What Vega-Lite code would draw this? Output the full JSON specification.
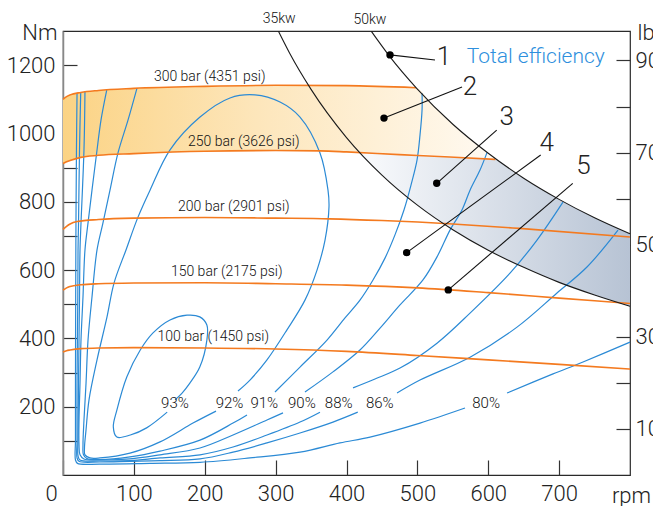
{
  "$schema": "https://vega.github.io/schema/vega-lite/v6.json",
  "width": 567,
  "height": 444,
  "autosize": {"type": "none"},
  "padding": {"left": 63, "top": 31, "right": 23, "bottom": 31},
  "background": "white",
  "config": {
    "view": {"stroke": "#2a2a2a", "strokeWidth": 1.2},
    "font": "Roboto",
    "text": {"font": "Roboto", "fontWeight": 300},
    "axis": {"labelFont": "Roboto", "titleFont": "Roboto", "labelFontWeight": 300, "titleFontWeight": 300, "labelColor": "#222", "titleColor": "#222", "grid": false, "tickColor": "#333", "tickWidth": 1.2, "zindex": 1}
  },
  "datasets": {
    "pressure": [
      {"p": "300", "rpm": 0, "Nm": 1100}, {"p": "300", "rpm": 5, "Nm": 1108}, {"p": "300", "rpm": 10, "Nm": 1113}, {"p": "300", "rpm": 25, "Nm": 1120}, {"p": "300", "rpm": 50, "Nm": 1126}, {"p": "300", "rpm": 100, "Nm": 1132}, {"p": "300", "rpm": 200, "Nm": 1138}, {"p": "300", "rpm": 300, "Nm": 1141}, {"p": "300", "rpm": 400, "Nm": 1140}, {"p": "300", "rpm": 498, "Nm": 1134},
      {"p": "250", "rpm": 0, "Nm": 912}, {"p": "250", "rpm": 5, "Nm": 917}, {"p": "250", "rpm": 10, "Nm": 921}, {"p": "250", "rpm": 25, "Nm": 930}, {"p": "250", "rpm": 50, "Nm": 936}, {"p": "250", "rpm": 100, "Nm": 941}, {"p": "250", "rpm": 200, "Nm": 948}, {"p": "250", "rpm": 300, "Nm": 950}, {"p": "250", "rpm": 363, "Nm": 949}, {"p": "250", "rpm": 400, "Nm": 946}, {"p": "250", "rpm": 475, "Nm": 938}, {"p": "250", "rpm": 546, "Nm": 931}, {"p": "250", "rpm": 610, "Nm": 924},
      {"p": "200", "rpm": 0, "Nm": 719}, {"p": "200", "rpm": 5, "Nm": 728}, {"p": "200", "rpm": 10, "Nm": 735}, {"p": "200", "rpm": 20, "Nm": 742}, {"p": "200", "rpm": 50, "Nm": 748}, {"p": "200", "rpm": 100, "Nm": 752}, {"p": "200", "rpm": 200, "Nm": 754}, {"p": "200", "rpm": 300, "Nm": 752}, {"p": "200", "rpm": 376, "Nm": 750}, {"p": "200", "rpm": 450, "Nm": 745}, {"p": "200", "rpm": 550, "Nm": 735}, {"p": "200", "rpm": 644, "Nm": 722}, {"p": "200", "rpm": 800, "Nm": 697},
      {"p": "150", "rpm": 0, "Nm": 541}, {"p": "150", "rpm": 5, "Nm": 548}, {"p": "150", "rpm": 10, "Nm": 552}, {"p": "150", "rpm": 25, "Nm": 557}, {"p": "150", "rpm": 50, "Nm": 560}, {"p": "150", "rpm": 100, "Nm": 562}, {"p": "150", "rpm": 200, "Nm": 563}, {"p": "150", "rpm": 300, "Nm": 560}, {"p": "150", "rpm": 400, "Nm": 556}, {"p": "150", "rpm": 500, "Nm": 548}, {"p": "150", "rpm": 600, "Nm": 534}, {"p": "150", "rpm": 700, "Nm": 518}, {"p": "150", "rpm": 800, "Nm": 502},
      {"p": "100", "rpm": 0, "Nm": 360}, {"p": "100", "rpm": 5, "Nm": 364}, {"p": "100", "rpm": 10, "Nm": 366}, {"p": "100", "rpm": 25, "Nm": 370}, {"p": "100", "rpm": 50, "Nm": 372}, {"p": "100", "rpm": 100, "Nm": 373}, {"p": "100", "rpm": 200, "Nm": 372}, {"p": "100", "rpm": 300, "Nm": 369}, {"p": "100", "rpm": 400, "Nm": 362}, {"p": "100", "rpm": 500, "Nm": 350}, {"p": "100", "rpm": 600, "Nm": 337}, {"p": "100", "rpm": 700, "Nm": 324}, {"p": "100", "rpm": 800, "Nm": 310}
    ],
    "power": [
      {"kw": "35", "rpm": 304, "Nm": 1299}, {"kw": "35", "rpm": 320, "Nm": 1234}, {"kw": "35", "rpm": 350, "Nm": 1129}, {"kw": "35", "rpm": 400, "Nm": 988}, {"kw": "35", "rpm": 450, "Nm": 878}, {"kw": "35", "rpm": 500, "Nm": 790}, {"kw": "35", "rpm": 550, "Nm": 718}, {"kw": "35", "rpm": 600, "Nm": 658}, {"kw": "35", "rpm": 650, "Nm": 608}, {"kw": "35", "rpm": 700, "Nm": 564}, {"kw": "35", "rpm": 750, "Nm": 527}, {"kw": "35", "rpm": 800, "Nm": 494},
      {"kw": "50", "rpm": 435, "Nm": 1299}, {"kw": "50", "rpm": 460, "Nm": 1228}, {"kw": "50", "rpm": 500, "Nm": 1130}, {"kw": "50", "rpm": 550, "Nm": 1027}, {"kw": "50", "rpm": 600, "Nm": 942}, {"kw": "50", "rpm": 650, "Nm": 869}, {"kw": "50", "rpm": 700, "Nm": 807}, {"kw": "50", "rpm": 750, "Nm": 753}, {"kw": "50", "rpm": 800, "Nm": 706}
    ],
    "orangeArea": [
      {"rpm": 0, "Nm": 912, "Nm2": 1100}, {"rpm": 5, "Nm": 917, "Nm2": 1108}, {"rpm": 10, "Nm": 921, "Nm2": 1113}, {"rpm": 25, "Nm": 930, "Nm2": 1120}, {"rpm": 50, "Nm": 936, "Nm2": 1126}, {"rpm": 100, "Nm": 941, "Nm2": 1132}, {"rpm": 200, "Nm": 948, "Nm2": 1138}, {"rpm": 300, "Nm": 950, "Nm2": 1141}, {"rpm": 363, "Nm": 949, "Nm2": 1141}, {"rpm": 400, "Nm": 946, "Nm2": 1140}, {"rpm": 450, "Nm": 943, "Nm2": 1137}, {"rpm": 498, "Nm": 939, "Nm2": 1134}, {"rpm": 520, "Nm": 937, "Nm2": 1087}, {"rpm": 550, "Nm": 934, "Nm2": 1027}, {"rpm": 580, "Nm": 931, "Nm2": 974}, {"rpm": 600, "Nm": 929, "Nm2": 942}, {"rpm": 610, "Nm": 926, "Nm2": 926}
    ],
    "blueArea": [
      {"rpm": 417, "Nm": 947, "Nm2": 947}, {"rpm": 450, "Nm": 878, "Nm2": 943}, {"rpm": 500, "Nm": 790, "Nm2": 936}, {"rpm": 546, "Nm": 723, "Nm2": 931}, {"rpm": 610, "Nm": 648, "Nm2": 924}, {"rpm": 630, "Nm": 627, "Nm2": 897}, {"rpm": 650, "Nm": 608, "Nm2": 869}, {"rpm": 700, "Nm": 564, "Nm2": 807}, {"rpm": 750, "Nm": 527, "Nm2": 753}, {"rpm": 800, "Nm": 494, "Nm2": 706}
    ],
    "eff": [
      {"c": "93", "i": 0, "rpm": 158, "Nm": 220}, {"c": "93", "i": 1, "rpm": 168, "Nm": 240}, {"c": "93", "i": 2, "rpm": 179, "Nm": 269}, {"c": "93", "i": 3, "rpm": 193, "Nm": 316}, {"c": "93", "i": 4, "rpm": 203, "Nm": 395}, {"c": "93", "i": 5, "rpm": 203, "Nm": 439}, {"c": "93", "i": 6, "rpm": 193, "Nm": 463}, {"c": "93", "i": 7, "rpm": 175, "Nm": 468}, {"c": "93", "i": 8, "rpm": 151, "Nm": 454}, {"c": "93", "i": 9, "rpm": 127, "Nm": 416}, {"c": "93", "i": 10, "rpm": 109, "Nm": 366}, {"c": "93", "i": 11, "rpm": 90, "Nm": 287}, {"c": "93", "i": 12, "rpm": 76, "Nm": 190}, {"c": "93", "i": 13, "rpm": 71, "Nm": 141}, {"c": "93", "i": 14, "rpm": 76, "Nm": 111}, {"c": "93", "i": 15, "rpm": 95, "Nm": 117}, {"c": "93", "i": 16, "rpm": 118, "Nm": 138}, {"c": "93", "i": 17, "rpm": 147, "Nm": 184},
      {"c": "92", "i": 0, "rpm": 246.9, "Nm": 246}, {"c": "92", "i": 1, "rpm": 263.8, "Nm": 278}, {"c": "92", "i": 2, "rpm": 287.8, "Nm": 337}, {"c": "92", "i": 3, "rpm": 316, "Nm": 425}, {"c": "92", "i": 4, "rpm": 341.4, "Nm": 512}, {"c": "92", "i": 5, "rpm": 358.4, "Nm": 600}, {"c": "92", "i": 6, "rpm": 369.7, "Nm": 688}, {"c": "92", "i": 7, "rpm": 375.3, "Nm": 785}, {"c": "92", "i": 8, "rpm": 373.9, "Nm": 834}, {"c": "92", "i": 9, "rpm": 362.6, "Nm": 943}, {"c": "92", "i": 10, "rpm": 334.4, "Nm": 1048}, {"c": "92", "i": 11, "rpm": 306.2, "Nm": 1092}, {"c": "92", "i": 12, "rpm": 270.9, "Nm": 1113}, {"c": "92", "i": 13, "rpm": 235.6, "Nm": 1104}, {"c": "92", "i": 14, "rpm": 193.3, "Nm": 1048}, {"c": "92", "i": 15, "rpm": 151, "Nm": 952}, {"c": "92", "i": 16, "rpm": 122.8, "Nm": 834}, {"c": "92", "i": 17, "rpm": 105.8, "Nm": 755}, {"c": "92", "i": 18, "rpm": 88.9, "Nm": 659}, {"c": "92", "i": 19, "rpm": 72, "Nm": 562}, {"c": "92", "i": 20, "rpm": 62.1, "Nm": 463}, {"c": "92", "i": 21, "rpm": 48, "Nm": 337}, {"c": "92", "i": 22, "rpm": 36.7, "Nm": 220}, {"c": "92", "i": 23, "rpm": 32.5, "Nm": 132}, {"c": "92", "i": 24, "rpm": 30.3, "Nm": 79}, {"c": "92", "i": 25, "rpm": 31, "Nm": 59}, {"c": "92", "i": 26, "rpm": 38.1, "Nm": 50}, {"c": "92", "i": 27, "rpm": 52.2, "Nm": 50}, {"c": "92", "i": 28, "rpm": 94.5, "Nm": 64}, {"c": "92", "i": 29, "rpm": 136.9, "Nm": 97}, {"c": "92", "i": 30, "rpm": 183.4, "Nm": 152}, {"c": "92", "i": 31, "rpm": 215.9, "Nm": 187},
      {"c": "91a", "i": 0, "rpm": 104.4, "Nm": 1133}, {"c": "91a", "i": 1, "rpm": 91.7, "Nm": 1039}, {"c": "91a", "i": 2, "rpm": 77.6, "Nm": 943}, {"c": "91a", "i": 3, "rpm": 66.3, "Nm": 834}, {"c": "91a", "i": 4, "rpm": 56.4, "Nm": 738}, {"c": "91a", "i": 5, "rpm": 48, "Nm": 659}, {"c": "91a", "i": 6, "rpm": 40.9, "Nm": 521}, {"c": "91a", "i": 7, "rpm": 35.3, "Nm": 395}, {"c": "91a", "i": 8, "rpm": 32.5, "Nm": 269}, {"c": "91a", "i": 9, "rpm": 29.6, "Nm": 161}, {"c": "91a", "i": 10, "rpm": 28.2, "Nm": 88}, {"c": "91a", "i": 11, "rpm": 28.9, "Nm": 59}, {"c": "91a", "i": 12, "rpm": 33.9, "Nm": 48}, {"c": "91a", "i": 13, "rpm": 52.2, "Nm": 45}, {"c": "91a", "i": 14, "rpm": 94.5, "Nm": 53}, {"c": "91a", "i": 15, "rpm": 136.9, "Nm": 70}, {"c": "91a", "i": 16, "rpm": 193.3, "Nm": 102}, {"c": "91a", "i": 17, "rpm": 239.9, "Nm": 152}, {"c": "91a", "i": 18, "rpm": 259.6, "Nm": 176},
      {"c": "91b", "i": 0, "rpm": 299.1, "Nm": 243}, {"c": "91b", "i": 1, "rpm": 334.4, "Nm": 316}, {"c": "91b", "i": 2, "rpm": 372.5, "Nm": 395}, {"c": "91b", "i": 3, "rpm": 397.9, "Nm": 460}, {"c": "91b", "i": 4, "rpm": 419, "Nm": 512}, {"c": "91b", "i": 5, "rpm": 437.4, "Nm": 571}, {"c": "91b", "i": 6, "rpm": 454.3, "Nm": 635}, {"c": "91b", "i": 7, "rpm": 468.4, "Nm": 703}, {"c": "91b", "i": 8, "rpm": 481.1, "Nm": 776}, {"c": "91b", "i": 9, "rpm": 491, "Nm": 849}, {"c": "91b", "i": 10, "rpm": 499.5, "Nm": 922}, {"c": "91b", "i": 11, "rpm": 503.7, "Nm": 995}, {"c": "91b", "i": 12, "rpm": 506.6, "Nm": 1069}, {"c": "91b", "i": 13, "rpm": 506.6, "Nm": 1118},
      {"c": "90a", "i": 0, "rpm": 61.7, "Nm": 1127}, {"c": "90a", "i": 1, "rpm": 53.6, "Nm": 1039}, {"c": "90a", "i": 2, "rpm": 47.5, "Nm": 943}, {"c": "90a", "i": 3, "rpm": 40.9, "Nm": 834}, {"c": "90a", "i": 4, "rpm": 35.3, "Nm": 738}, {"c": "90a", "i": 5, "rpm": 31, "Nm": 659}, {"c": "90a", "i": 6, "rpm": 28.2, "Nm": 521}, {"c": "90a", "i": 7, "rpm": 25.4, "Nm": 395}, {"c": "90a", "i": 8, "rpm": 24, "Nm": 269}, {"c": "90a", "i": 9, "rpm": 22.6, "Nm": 161}, {"c": "90a", "i": 10, "rpm": 22.6, "Nm": 88}, {"c": "90a", "i": 11, "rpm": 24, "Nm": 59}, {"c": "90a", "i": 12, "rpm": 29.6, "Nm": 47}, {"c": "90a", "i": 13, "rpm": 52.2, "Nm": 44}, {"c": "90a", "i": 14, "rpm": 94.5, "Nm": 47}, {"c": "90a", "i": 15, "rpm": 136.9, "Nm": 59}, {"c": "90a", "i": 16, "rpm": 193.3, "Nm": 79}, {"c": "90a", "i": 17, "rpm": 239.9, "Nm": 117}, {"c": "90a", "i": 18, "rpm": 287.8, "Nm": 161}, {"c": "90a", "i": 19, "rpm": 310.4, "Nm": 182},
      {"c": "90b", "i": 0, "rpm": 341.4, "Nm": 243}, {"c": "90b", "i": 1, "rpm": 380.9, "Nm": 302}, {"c": "90b", "i": 2, "rpm": 419, "Nm": 366}, {"c": "90b", "i": 3, "rpm": 447.3, "Nm": 430}, {"c": "90b", "i": 4, "rpm": 475.5, "Nm": 498}, {"c": "90b", "i": 5, "rpm": 507.9, "Nm": 571}, {"c": "90b", "i": 6, "rpm": 529.1, "Nm": 644}, {"c": "90b", "i": 7, "rpm": 546, "Nm": 717}, {"c": "90b", "i": 8, "rpm": 562.9, "Nm": 776}, {"c": "90b", "i": 9, "rpm": 574.3, "Nm": 834}, {"c": "90b", "i": 10, "rpm": 588.4, "Nm": 893}, {"c": "90b", "i": 11, "rpm": 598.2, "Nm": 944},
      {"c": "88a", "i": 0, "rpm": 31, "Nm": 1124}, {"c": "88a", "i": 1, "rpm": 29.6, "Nm": 952}, {"c": "88a", "i": 2, "rpm": 25.4, "Nm": 738}, {"c": "88a", "i": 3, "rpm": 24, "Nm": 659}, {"c": "88a", "i": 4, "rpm": 23.3, "Nm": 521}, {"c": "88a", "i": 5, "rpm": 21.9, "Nm": 269}, {"c": "88a", "i": 6, "rpm": 21.2, "Nm": 102}, {"c": "88a", "i": 7, "rpm": 21.2, "Nm": 56}, {"c": "88a", "i": 8, "rpm": 24, "Nm": 44}, {"c": "88a", "i": 9, "rpm": 52.2, "Nm": 41}, {"c": "88a", "i": 10, "rpm": 94.5, "Nm": 42}, {"c": "88a", "i": 11, "rpm": 136.9, "Nm": 50}, {"c": "88a", "i": 12, "rpm": 193.3, "Nm": 59}, {"c": "88a", "i": 13, "rpm": 239.9, "Nm": 82}, {"c": "88a", "i": 14, "rpm": 287.8, "Nm": 117}, {"c": "88a", "i": 15, "rpm": 334.4, "Nm": 155}, {"c": "88a", "i": 16, "rpm": 362.6, "Nm": 184},
      {"c": "88b", "i": 0, "rpm": 409.2, "Nm": 255}, {"c": "88b", "i": 1, "rpm": 440.2, "Nm": 281}, {"c": "88b", "i": 2, "rpm": 475.5, "Nm": 313}, {"c": "88b", "i": 3, "rpm": 527.7, "Nm": 386}, {"c": "88b", "i": 4, "rpm": 574.3, "Nm": 474}, {"c": "88b", "i": 5, "rpm": 630.7, "Nm": 591}, {"c": "88b", "i": 6, "rpm": 668.8, "Nm": 688}, {"c": "88b", "i": 7, "rpm": 705.4, "Nm": 799},
      {"c": "86a", "i": 0, "rpm": 25, "Nm": 1121}, {"c": "86a", "i": 1, "rpm": 23.3, "Nm": 952}, {"c": "86a", "i": 2, "rpm": 21.9, "Nm": 738}, {"c": "86a", "i": 3, "rpm": 21.2, "Nm": 659}, {"c": "86a", "i": 4, "rpm": 20.9, "Nm": 521}, {"c": "86a", "i": 5, "rpm": 19.8, "Nm": 269}, {"c": "86a", "i": 6, "rpm": 19.8, "Nm": 102}, {"c": "86a", "i": 7, "rpm": 19.8, "Nm": 50}, {"c": "86a", "i": 8, "rpm": 22.6, "Nm": 40}, {"c": "86a", "i": 9, "rpm": 52.2, "Nm": 38}, {"c": "86a", "i": 10, "rpm": 94.5, "Nm": 40}, {"c": "86a", "i": 11, "rpm": 136.9, "Nm": 42}, {"c": "86a", "i": 12, "rpm": 193.3, "Nm": 47}, {"c": "86a", "i": 13, "rpm": 239.9, "Nm": 67}, {"c": "86a", "i": 14, "rpm": 287.8, "Nm": 94}, {"c": "86a", "i": 15, "rpm": 334.4, "Nm": 123}, {"c": "86a", "i": 16, "rpm": 380.9, "Nm": 155}, {"c": "86a", "i": 17, "rpm": 415.9, "Nm": 184},
      {"c": "86b", "i": 0, "rpm": 471.3, "Nm": 240}, {"c": "86b", "i": 1, "rpm": 503.7, "Nm": 278}, {"c": "86b", "i": 2, "rpm": 574.3, "Nm": 345}, {"c": "86b", "i": 3, "rpm": 640.6, "Nm": 433}, {"c": "86b", "i": 4, "rpm": 697, "Nm": 533}, {"c": "86b", "i": 5, "rpm": 739.3, "Nm": 609}, {"c": "86b", "i": 6, "rpm": 783.1, "Nm": 717},
      {"c": "80a", "i": 0, "rpm": 19.8, "Nm": 1118}, {"c": "80a", "i": 1, "rpm": 19, "Nm": 952}, {"c": "80a", "i": 2, "rpm": 18.3, "Nm": 738}, {"c": "80a", "i": 3, "rpm": 17.9, "Nm": 521}, {"c": "80a", "i": 4, "rpm": 17.6, "Nm": 269}, {"c": "80a", "i": 5, "rpm": 17.6, "Nm": 102}, {"c": "80a", "i": 6, "rpm": 17.6, "Nm": 44}, {"c": "80a", "i": 7, "rpm": 20.5, "Nm": 34}, {"c": "80a", "i": 8, "rpm": 52.2, "Nm": 32}, {"c": "80a", "i": 9, "rpm": 122.8, "Nm": 34}, {"c": "80a", "i": 10, "rpm": 193.3, "Nm": 37}, {"c": "80a", "i": 11, "rpm": 263.8, "Nm": 50}, {"c": "80a", "i": 12, "rpm": 334.4, "Nm": 67}, {"c": "80a", "i": 13, "rpm": 390.8, "Nm": 94}, {"c": "80a", "i": 14, "rpm": 433.2, "Nm": 111}, {"c": "80a", "i": 15, "rpm": 503.7, "Nm": 152}, {"c": "80a", "i": 16, "rpm": 567.2, "Nm": 196},
      {"c": "80b", "i": 0, "rpm": 626.5, "Nm": 240}, {"c": "80b", "i": 1, "rpm": 691.4, "Nm": 296}, {"c": "80b", "i": 2, "rpm": 733.7, "Nm": 331}, {"c": "80b", "i": 3, "rpm": 800, "Nm": 389}
    ],
    "leaders": [
      {"n": "1", "rpm": 461.4, "Nm": 1230, "rpm2": 524.9, "Nm2": 1215},
      {"n": "2", "rpm": 452.9, "Nm": 1045, "rpm2": 563, "Nm2": 1136},
      {"n": "3", "rpm": 527.3, "Nm": 854, "rpm2": 611.9, "Nm2": 1010},
      {"n": "4", "rpm": 484.9, "Nm": 651, "rpm2": 674, "Nm2": 937},
      {"n": "5", "rpm": 543.6, "Nm": 542, "rpm2": 719.2, "Nm2": 854}
    ],
    "numLabels": [
      {"t": "1", "rpm": 537.6, "Nm": 1224}, {"t": "2", "rpm": 574.3, "Nm": 1137}, {"t": "3", "rpm": 626, "Nm": 1047}, {"t": "4", "rpm": 682.5, "Nm": 972}, {"t": "5", "rpm": 734.4, "Nm": 905}
    ],
    "pLabels": [
      {"t": "300 bar (4351 psi)", "rpm": 207, "Nm": 1165}, {"t": "250 bar (3626 psi)", "rpm": 255, "Nm": 976}, {"t": "200 bar (2901 psi)", "rpm": 241, "Nm": 785}, {"t": "150 bar (2175 psi)", "rpm": 231, "Nm": 595}, {"t": "100 bar (1450 psi)", "rpm": 212, "Nm": 405}
    ],
    "eLabels": [
      {"t": "93%", "rpm": 158, "Nm": 211}, {"t": "92%", "rpm": 235, "Nm": 211}, {"t": "91%", "rpm": 284, "Nm": 211}, {"t": "90%", "rpm": 337, "Nm": 211}, {"t": "88%", "rpm": 389, "Nm": 211}, {"t": "86%", "rpm": 447, "Nm": 211}, {"t": "80%", "rpm": 597, "Nm": 211}
    ],
    "kwLabels": [
      {"t": "35kw", "rpm": 305, "Nm": 1336}, {"t": "50kw", "rpm": 433, "Nm": 1333}
    ],
    "title": [{"t": "Total efficiency", "rpm": 667, "Nm": 1224}]
  },
  "layer": [
    {
      "encoding": {
        "x": {"field": "rpm", "type": "quantitative", "scale": {"domain": [0, 800], "nice": false, "zero": false},
          "axis": {"values": [0, 100, 200, 300, 400, 500, 600, 700], "format": "d", "tickSize": -15, "labelFontSize": 22, "labelPadding": 23, "labelFlush": false, "labelOffset": {"condition": {"test": "datum.value === 0", "value": -12}, "value": 0}, "domain": false, "title": "rpm", "titleFontSize": 22, "titleX": 568, "titleY": 27, "titleAlign": "center", "titleBaseline": "alphabetic"}},
        "y": {"field": "Nm", "type": "quantitative", "scale": {"domain": [0, 1300], "nice": false, "zero": false},
          "axis": {"values": [100, 200, 300, 400, 500, 600, 700, 800, 900, 1000, 1100, 1200], "format": "d", "labelExpr": "datum.value % 200 === 0 ? datum.label : ''", "tickSize": -14, "labelFontSize": 22, "labelPadding": 22, "domain": true, "domainColor": "#888", "domainWidth": 1.5, "title": "Nm", "titleFontSize": 22, "titleAngle": 0, "titleAlign": "right", "titleBaseline": "middle", "titleX": -6, "titleY": 1}}
      },
      "layer": [
        {"data": {"name": "orangeArea"}, "mark": {"type": "area", "interpolate": "monotone", "fill": {"gradient": "linear", "x1": 0, "y1": 0, "x2": 1, "y2": 0, "stops": [{"offset": 0, "color": "#FBD384"}, {"offset": 0.45, "color": "#FDE6BB"}, {"offset": 1, "color": "#FFFAF2"}]}}, "encoding": {"y2": {"field": "Nm2"}}},
        {"data": {"name": "blueArea"}, "mark": {"type": "area", "interpolate": "monotone", "fill": {"gradient": "linear", "x1": 0, "y1": 0, "x2": 1, "y2": 0, "stops": [{"offset": 0, "color": "#FAFBFD"}, {"offset": 1, "color": "#B7C3D4"}]}}, "encoding": {"y2": {"field": "Nm2"}}},
        {"data": {"name": "eff"}, "mark": {"type": "line", "interpolate": "catmull-rom", "color": "#2B8AD5", "strokeWidth": 1.2}, "encoding": {"detail": {"field": "c"}, "order": {"field": "i", "type": "quantitative"}}},
        {"data": {"name": "pressure"}, "mark": {"type": "line", "interpolate": "monotone", "color": "#F47A1F", "strokeWidth": 1.6}, "encoding": {"detail": {"field": "p"}}},
        {"data": {"name": "power"}, "mark": {"type": "line", "interpolate": "monotone", "color": "#1a1a1a", "strokeWidth": 1.1}, "encoding": {"detail": {"field": "kw"}}},
        {"data": {"name": "leaders"}, "mark": {"type": "rule", "color": "#111", "strokeWidth": 1.1}, "encoding": {"x2": {"field": "rpm2"}, "y2": {"field": "Nm2"}}},
        {"data": {"name": "leaders"}, "mark": {"type": "point", "filled": true, "color": "#000", "size": 55, "opacity": 1}, "encoding": {}},
        {"data": {"name": "pLabels"}, "mark": {"type": "text", "fontSize": 14, "color": "#111", "align": "center", "baseline": "middle"}, "encoding": {"text": {"field": "t"}}},
        {"data": {"name": "eLabels"}, "mark": {"type": "text", "fontSize": 15, "color": "#111", "align": "center", "baseline": "middle"}, "encoding": {"text": {"field": "t"}}},
        {"data": {"name": "kwLabels"}, "mark": {"type": "text", "fontSize": 14, "color": "#111", "align": "center", "baseline": "middle"}, "encoding": {"text": {"field": "t"}}},
        {"data": {"name": "numLabels"}, "mark": {"type": "text", "fontSize": 26, "color": "#222", "align": "center", "baseline": "middle"}, "encoding": {"text": {"field": "t"}}},
        {"data": {"name": "title"}, "mark": {"type": "text", "fontSize": 21, "color": "#2E8FDD", "align": "center", "baseline": "middle"}, "encoding": {"text": {"field": "t"}}}
      ]
    },
    {
      "data": {"values": [{"lbf": 0}, {"lbf": 964}]},
      "mark": {"type": "point", "opacity": 0},
      "encoding": {
        "y": {"field": "lbf", "type": "quantitative", "scale": {"domain": [0, 964], "nice": false, "zero": false},
          "axis": {"orient": "right", "values": [100, 200, 300, 400, 500, 600, 700, 800, 900], "format": "d", "labelExpr": "datum.value % 200 === 100 ? datum.label : ''", "tickSize": -14, "labelFontSize": 22, "labelPadding": 19, "domain": false, "title": "lbf ft", "titleFontSize": 22, "titleAngle": 0, "titleAlign": "left", "titleBaseline": "middle", "titleX": 7, "titleY": 1}}
      }
    }
  ],
  "resolve": {"scale": {"y": "independent"}, "axis": {"y": "independent"}}
}
